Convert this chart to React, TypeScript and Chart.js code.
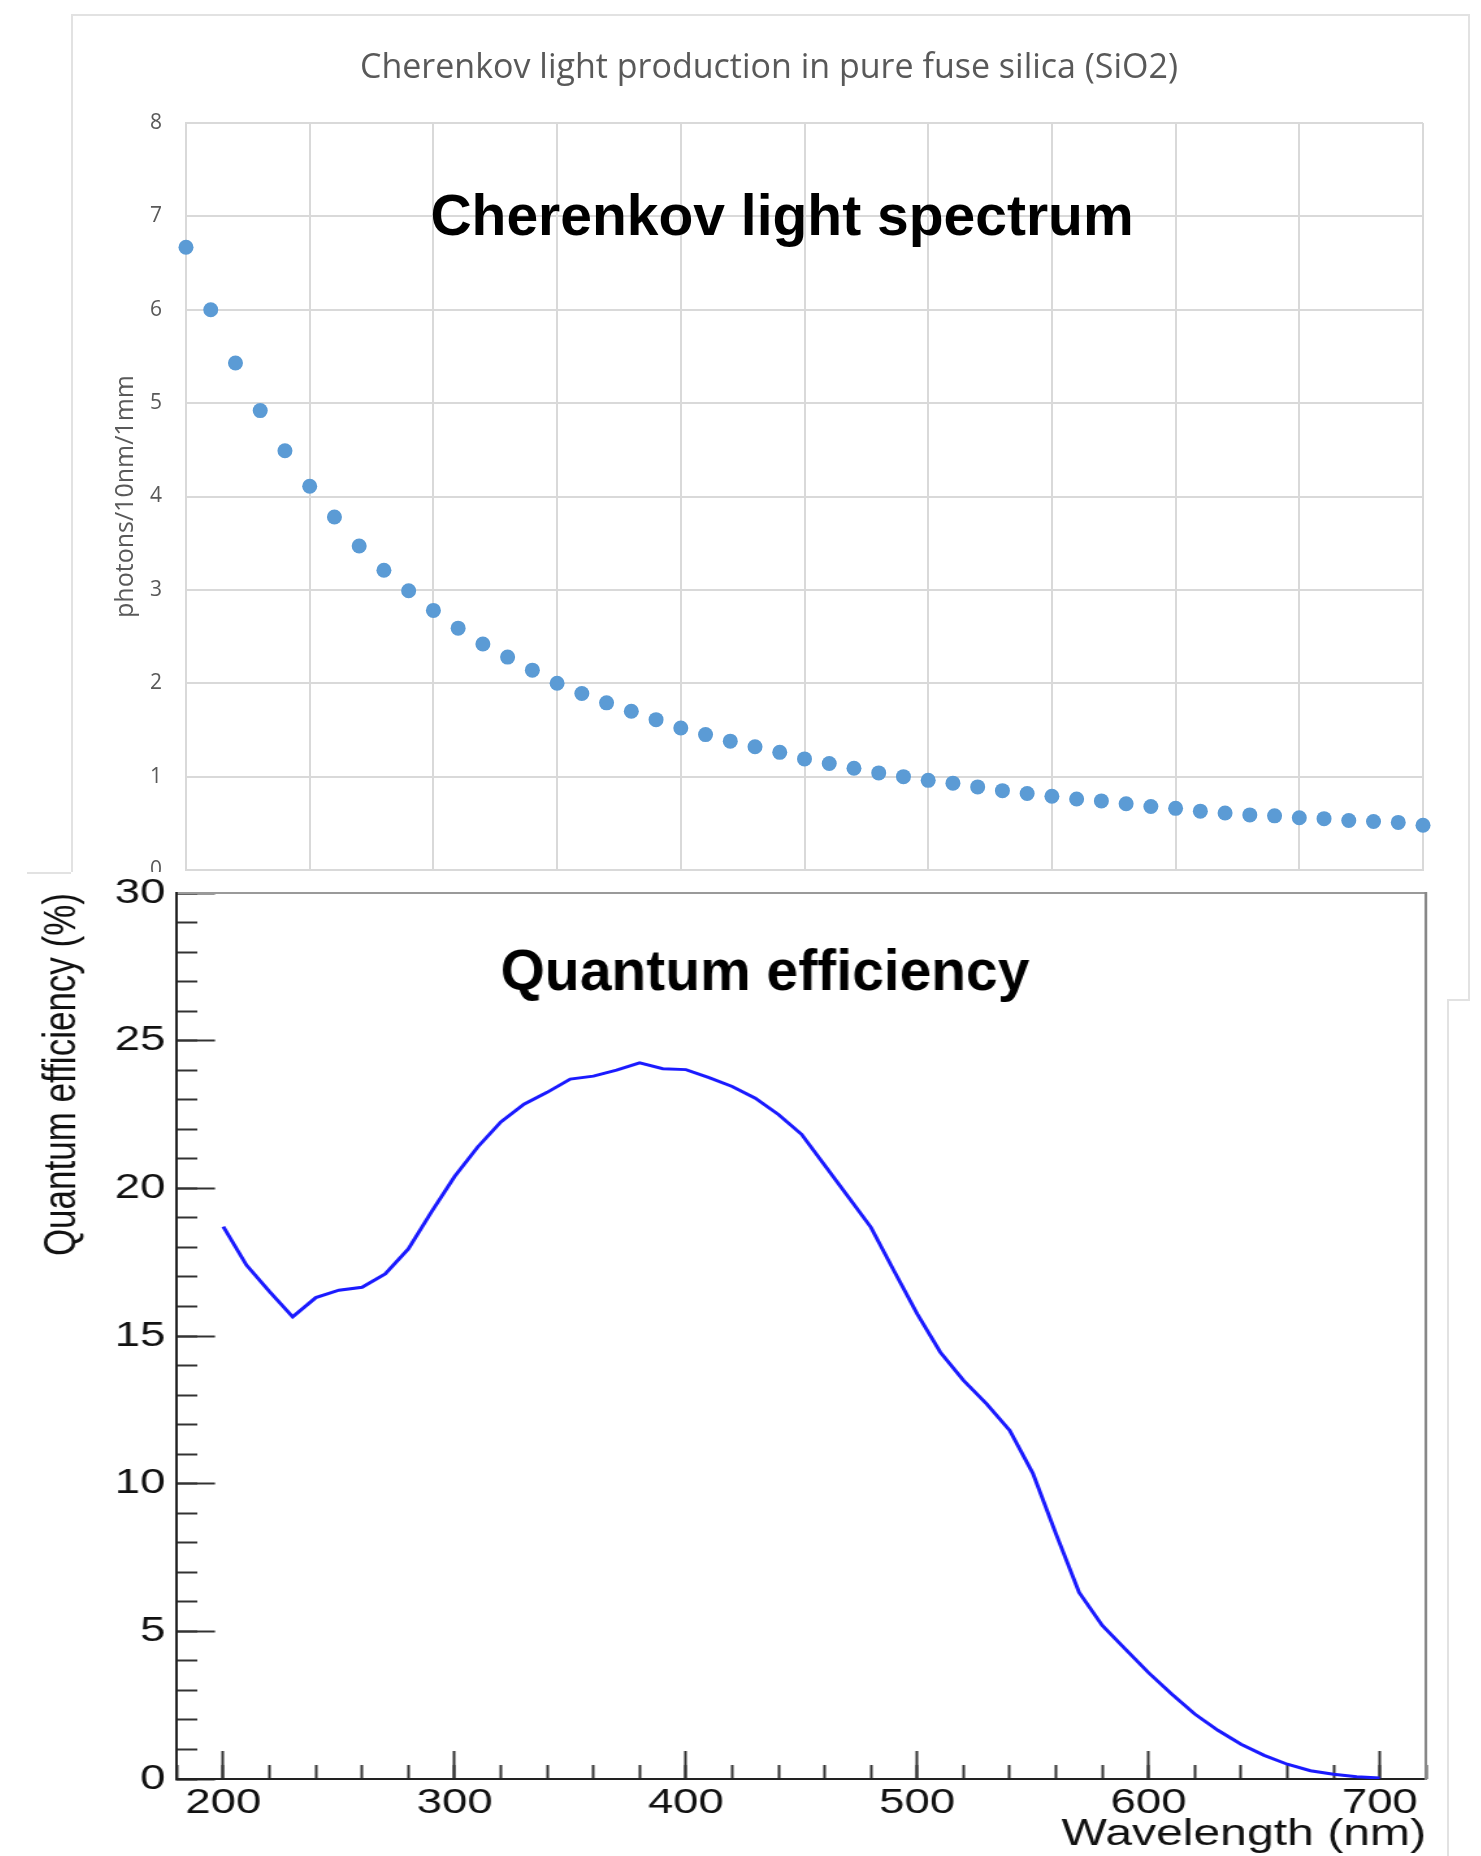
import React, { useEffect, useRef } from 'react';
import { Chart, registerables } from 'chart.js';

Chart.register(...registerables);

// ---------- data ----------
const wavelengths = [
  200, 210, 220, 230, 240, 250, 260, 270, 280, 290,
  300, 310, 320, 330, 340, 350, 360, 370, 380, 390,
  400, 410, 420, 430, 440, 450, 460, 470, 480, 490,
  500, 510, 520, 530, 540, 550, 560, 570, 580, 590,
  600, 610, 620, 630, 640, 650, 660, 670, 680, 690,
  700,
];

const photonYield = [
  6.67, 6.0, 5.43, 4.92, 4.49, 4.11, 3.78, 3.47, 3.21, 2.99,
  2.78, 2.59, 2.42, 2.28, 2.14, 2.0, 1.89, 1.79, 1.7, 1.61,
  1.52, 1.45, 1.38, 1.32, 1.26, 1.19, 1.14, 1.09, 1.04, 1.0,
  0.96, 0.93, 0.89, 0.85, 0.82, 0.79, 0.76, 0.74, 0.71, 0.68,
  0.66, 0.63, 0.61, 0.59, 0.58, 0.56, 0.55, 0.53, 0.52, 0.51,
  0.48,
];

const quantumEfficiency = [
  18.7, 17.4, 16.5, 15.65, 16.3, 16.55, 16.65, 17.1, 17.95, 19.2,
  20.4, 21.4, 22.25, 22.85, 23.25, 23.7, 23.8, 24.0, 24.25, 24.05,
  24.02, 23.75, 23.45, 23.05, 22.5, 21.83, 20.78, 19.73, 18.68, 17.2,
  15.75, 14.45, 13.5, 12.7, 11.8, 10.35, 8.3, 6.32, 5.2, 4.4,
  3.6, 2.88, 2.2, 1.65, 1.18, 0.8, 0.5, 0.28, 0.16, 0.08,
  0.03,
];

const topTitle = 'Cherenkov light production in pure fuse silica (SiO2)';
const topYAxisLabel = 'photons/10nm/1mm';
const topOverlayLabel = 'Cherenkov light spectrum';
const bottomOverlayLabel = 'Quantum efficiency';
const bottomYAxisLabel = 'Quantum efficiency (%)';
const bottomXAxisLabel = 'Wavelength (nm)';

const STRETCH = 1.3;
const CALIBRI_LIKE = '"Open Sans", "Liberation Sans", sans-serif';
const ARIAL = '"Liberation Sans", Arial, sans-serif';

export default function App() {
  const topRef = useRef<HTMLCanvasElement | null>(null);
  const botRef = useRef<HTMLCanvasElement | null>(null);

  useEffect(() => {
    if (!topRef.current || !botRef.current) return;

    const cherTitlePlugin = {
      id: 'cherOverlayTitle',
      afterDraw(chart: any) {
        const ctx = chart.ctx;
        ctx.save();
        ctx.font = `bold 57px ${ARIAL}`;
        ctx.fillStyle = '#000';
        ctx.textAlign = 'center';
        ctx.textBaseline = 'alphabetic';
        ctx.fillText(topOverlayLabel, 711, 235);
        ctx.restore();
      },
    };

    const topChart = new Chart(topRef.current, {
      type: 'scatter',
      data: {
        datasets: [
          {
            data: wavelengths.map((x, i) => ({ x, y: photonYield[i] })),
            backgroundColor: '#5B9BD5',
            borderColor: '#5B9BD5',
            pointRadius: 7.5,
            pointHoverRadius: 7.5,
            pointBorderWidth: 0,
            clip: false as any,
          },
        ],
      },
      options: {
        responsive: false,
        animation: false,
        devicePixelRatio: 1,
        layout: { padding: { left: 44, right: 46, top: 0, bottom: 0 } },
        plugins: {
          legend: { display: false },
          tooltip: { enabled: false },
          title: {
            display: true,
            text: topTitle,
            color: '#595959',
            font: { family: CALIBRI_LIKE, size: 34, weight: 'normal' },
            padding: { top: 48, bottom: 34.2 },
          },
        },
        scales: {
          x: {
            type: 'linear',
            min: 200,
            max: 700,
            ticks: { display: false, stepSize: 50 },
            grid: { color: '#d9d9d9', lineWidth: 2, drawTicks: false },
            border: { display: true, color: '#d9d9d9', width: 2 },
            afterFit: (s: any) => {
              s.height = 130;
            },
          },
          y: {
            type: 'linear',
            min: 0,
            max: 8,
            ticks: {
              stepSize: 1,
              color: '#595959',
              font: { family: CALIBRI_LIKE, size: 21 },
              padding: 24,
            },
            grid: { color: '#d9d9d9', lineWidth: 2, drawTicks: false },
            border: { display: true, color: '#d9d9d9', width: 2 },
            title: {
              display: true,
              text: topYAxisLabel,
              color: '#595959',
              font: { family: CALIBRI_LIKE, size: 25, lineHeight: 0.8 },
              padding: { top: 1, bottom: 0 },
            },
            afterFit: (s: any) => {
              s.width = 71;
            },
          },
        },
      } as any,
      plugins: [cherTitlePlugin],
    });

    const qeTitlePlugin = {
      id: 'qeOverlayTitle',
      afterDraw(chart: any) {
        const ctx = chart.ctx;
        ctx.save();
        ctx.scale(1 / STRETCH, 1);
        ctx.font = `bold 57px ${ARIAL}`;
        ctx.fillStyle = '#000';
        ctx.textAlign = 'center';
        ctx.textBaseline = 'alphabetic';
        ctx.fillText(bottomOverlayLabel, 738, 178);
        ctx.restore();
      },
    };

    const hiddenTicks = { display: false };

    const botChart = new Chart(botRef.current, {
      type: 'line',
      data: {
        datasets: [
          {
            data: wavelengths.map((x, i) => ({ x, y: quantumEfficiency[i] })),
            borderColor: '#1a1aff',
            backgroundColor: '#1a1aff',
            borderWidth: 3,
            pointRadius: 0,
            tension: 0,
            fill: false,
            xAxisID: 'x',
            yAxisID: 'y',
          },
        ],
      },
      options: {
        responsive: false,
        animation: false,
        devicePixelRatio: 1,
        layout: { padding: { left: 0, top: 81, right: 33.8, bottom: 0 } },
        plugins: {
          legend: { display: false },
          tooltip: { enabled: false },
          title: { display: false },
        },
        scales: {
          x: {
            type: 'linear',
            position: 'bottom',
            weight: 1,
            min: 180,
            max: 720,
            ticks: {
              stepSize: 100,
              includeBounds: false,
              color: '#111',
              font: { family: ARIAL, size: 35 },
              padding: 31.5,
              maxRotation: 0,
              autoSkip: false,
            },
            grid: {
              drawOnChartArea: false,
              drawTicks: true,
              tickLength: -28,
              tickWidth: 2,
              tickColor: '#333',
            },
            border: { display: true, color: '#222', width: 2 },
            title: {
              display: true,
              text: bottomXAxisLabel,
              align: 'end',
              color: '#111',
              font: { family: ARIAL, size: 37, lineHeight: 1.0 },
              padding: { top: 0, bottom: 2.5 },
            },
            afterFit: (s: any) => {
              s.height = 77;
            },
          },
          xMinor: {
            type: 'linear',
            position: 'bottom',
            weight: 0,
            min: 180,
            max: 720,
            ticks: { ...hiddenTicks, stepSize: 20 },
            grid: {
              drawOnChartArea: false,
              drawTicks: true,
              tickLength: -14,
              tickWidth: 2,
              tickColor: '#333',
            },
            border: { display: false },
            afterFit: (s: any) => {
              s.height = 0;
            },
          },
          xTop: {
            type: 'linear',
            position: 'top',
            min: 180,
            max: 720,
            ticks: hiddenTicks,
            grid: { drawOnChartArea: false, drawTicks: false },
            border: { display: true, color: '#9a9a9a', width: 2 },
            afterFit: (s: any) => {
              s.height = 0;
            },
          },
          y: {
            type: 'linear',
            position: 'left',
            weight: 1,
            min: 0,
            max: 30,
            ticks: {
              stepSize: 5,
              color: '#111',
              font: { family: ARIAL, size: 35 },
              padding: 38.2,
            },
            grid: {
              drawOnChartArea: false,
              drawTicks: true,
              tickLength: -29.2,
              tickWidth: 2,
              tickColor: '#333',
            },
            border: { display: true, color: '#222', width: 2 },
            title: {
              display: true,
              text: bottomYAxisLabel,
              align: 'end',
              color: '#111',
              font: { family: ARIAL, size: 35 },
              padding: { top: 6.3, bottom: 0 },
            },
            afterFit: (s: any) => {
              s.width = 115.4;
            },
          },
          yMinor: {
            type: 'linear',
            position: 'left',
            weight: 0,
            min: 0,
            max: 30,
            ticks: { ...hiddenTicks, stepSize: 1 },
            grid: {
              drawOnChartArea: false,
              drawTicks: true,
              tickLength: -15.6,
              tickWidth: 2,
              tickColor: '#333',
            },
            border: { display: false },
            afterFit: (s: any) => {
              s.width = 0;
            },
          },
          yRight: {
            type: 'linear',
            position: 'right',
            min: 0,
            max: 30,
            ticks: hiddenTicks,
            grid: { drawOnChartArea: false, drawTicks: false },
            border: { display: true, color: '#888', width: 2 },
            afterFit: (s: any) => {
              s.width = 0;
            },
          },
        },
      } as any,
      plugins: [qeTitlePlugin],
    });

    return () => {
      topChart.destroy();
      botChart.destroy();
    };
  }, []);

  return (
    <div
      style={{
        position: 'absolute',
        left: 0,
        top: 0,
        width: 1481,
        height: 1856,
        overflow: 'hidden',
        background: '#fff',
      }}
    >
      <div
        style={{
          position: 'absolute',
          left: 71,
          top: 14,
          width: 1399,
          height: 987,
          border: '2px solid #e2e2e2',
          boxSizing: 'border-box',
        }}
      />
      <canvas
        ref={topRef}
        width={1398}
        height={1000}
        style={{ position: 'absolute', left: 71, top: 0 }}
      />
      <div
        style={{
          position: 'absolute',
          left: 27,
          top: 872,
          width: 1420,
          height: 984,
          background: '#fff',
        }}
      />
      <div
        style={{
          position: 'absolute',
          left: 27,
          top: 872,
          width: 44,
          height: 2,
          background: '#e2e2e2',
        }}
      />
      <div
        style={{
          position: 'absolute',
          left: 1447,
          top: 1000,
          width: 2,
          height: 856,
          background: '#e2e2e2',
        }}
      />
      <div
        style={{
          position: 'absolute',
          left: 27,
          top: 812,
          width: 1110,
          height: 1044,
          transform: `scaleX(${STRETCH})`,
          transformOrigin: '0 0',
        }}
      >
        <canvas ref={botRef} width={1110} height={1044} />
      </div>
    </div>
  );
}
